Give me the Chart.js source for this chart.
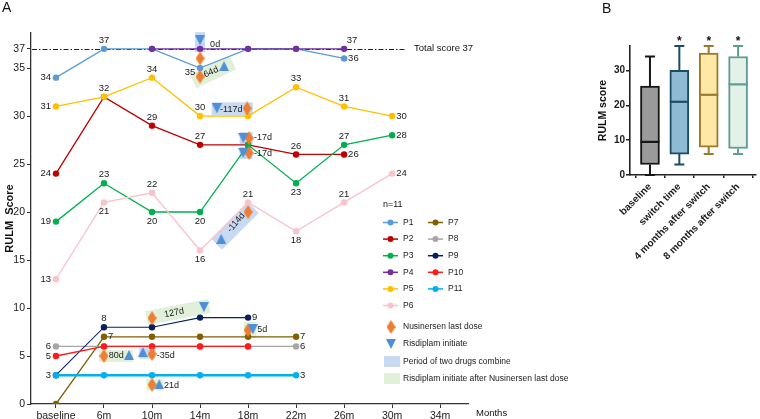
<!DOCTYPE html>
<html><head><meta charset="utf-8">
<script src="https://cdn.jsdelivr.net/npm/chart.js@4/dist/chart.umd.min.js"></script>
<style>
html,body{margin:0;padding:0;background:#fff;width:760px;height:419px;overflow:hidden}
#ca{position:absolute;left:0;top:0}
#cb{position:absolute;left:585px;top:0}
</style></head><body>
<canvas id="ca" width="585" height="419"></canvas>
<canvas id="cb" width="175" height="419"></canvas>
<script>
// ---------------- DATA (panel A) ----------------
const TIMEPOINTS = ['baseline','6m','10m','14m','18m','22m','26m','30m','34m'];
const Y_TICKS_A = [0,5,10,15,20,25,30,35,37];
const TOTAL_SCORE = 37;
const PATIENTS = ['P1','P2','P3','P4','P5','P6','P7','P8','P9','P10','P11'];
const P1  = [34,37,37,35,37,37,36];
const P2  = [24,32,29,27,27,26,26];
const P3  = [19,23,20,20,27,23,27,28];
const P4  = [null,null,37,37,37,37,37];
const P5  = [31,32,34,30,30,33,31,30];
const P6  = [13,21,22,16,21,18,21,24];
const P7  = [0,7,7,7,7,7];
const P8  = [6,6,6,6,6,6];
const P9  = [3,8,8,9,9];
const P10 = [5,6,6,6,6];
const P11 = [3,3,3,3,3,3];
// event markers: [timepoint index (fractional), RULM score]
const NUSI_LAST = [[3,36.0],[3,34.1],[3.98,30.8],[4.02,27.7],[4.02,26.15],[4.0,20.0],[2.0,8.95],[4.0,7.7],[1.0,5.0],[2.0,5.2],[2.0,2.0]];
const RISDI_DOWN = [[3,37.9],[3.35,30.8],[3.9,27.7],[3.9,26.15],[3.08,10.1],[4.1,7.8]];
const RISDI_UP = [[3.5,35.2],[3.44,17.2],[1.52,5.1],[1.81,5.4],[2.15,2.05]];
const DAY_TEXT = ['0d','64d','-117d','-17d','-17d','-114d','127d','5d','80d','-35d','21d'];

// ---------------- DATA (panel B) ----------------
const BOX_CATS = ['baseline','switch time','4 months after switch','8 months after switch'];
const BOX_MIN = [0,3,6,6];
const BOX_Q1  = [3,6,8,7.6];
const BOX_MED = [9.5,21,23,26];
const BOX_Q3  = [25.5,30,35,34];
const BOX_MAX = [34,37,37,37];
const BOX_SIG = ['', '*', '*', '*'];
const Y_TICKS_B = [0,10,20,30];

// ---------------- STYLE ----------------
const FONT = '"Liberation Sans", Arial, Helvetica, sans-serif';
Chart.defaults.font.family = FONT;
Chart.defaults.color = '#1a1a1a';
Chart.defaults.animation = false;

const COLORS = {P1:'#5b9bd5',P2:'#c00000',P3:'#00b050',P4:'#7030a0',P5:'#ffc000',P6:'#f8c3cb',
  P7:'#806000',P8:'#a6a6a6',P9:'#0b1f5e',P10:'#ff1a1a',P11:'#00b0f0'};
const LINE_W = {P11:2.6, P8:1.1, P9:1.1};
const ORANGE = '#ed7d31', TRI_BLUE = '#4f8fd8';
const BOX_FILL = {combine:'rgba(190,210,238,0.85)', after:'rgba(222,238,212,0.9)'};
const LABEL_POS = {
  P1:['l','t',null,'lb',null,null,'r'],
  P2:['l','t','t','t',null,'t','r'],
  P3:['l','t','b','b',null,'b','t','r'],
  P4:[null,null,null,null,null,null,'tr'],
  P5:['l',null,'t','t',null,'t','t','r'],
  P6:['l','b','t','b','t','b','t','r'],
  P7:[null,'r',null,null,null,'r'],
  P8:['l',null,null,null,null,'r'],
  P9:[null,'t',null,null,'r'],
  P10:['l'],
  P11:['l',null,null,null,null,'r']
};
const SHADES = [
  {x:3,y:37.7,w:10,h:20,a:0,k:'combine'},
  {x:3.27,y:34.58,w:44,h:15,a:-25,k:'after'},
  {x:3.67,y:30.75,w:41,h:13,a:0,k:'combine'},
  {x:3.96,y:27.7,w:13,h:12,a:0,k:'combine'},
  {x:3.96,y:26.15,w:13,h:12,a:0,k:'combine'},
  {x:3.73,y:18.54,w:52,h:15,a:-45,k:'combine'},
  {x:2.54,y:9.58,w:64,h:14,a:-11,k:'after'},
  {x:4.04,y:7.71,w:13,h:16,a:0,k:'after'},
  {x:1.25,y:5.0,w:34,h:12,a:0,k:'after'},
  {x:1.9,y:5.3,w:16,h:11,a:0,k:'combine'},
  {x:2.06,y:2.0,w:17,h:11,a:0,k:'after'}
];
const DAY_POS = [
  {x:3.21,y:37.4,a:0,al:'left'},
  {x:3.23,y:34.58,a:-25,al:'center'},
  {x:3.65,y:30.65,a:0,al:'center'},
  {x:4.125,y:27.8,a:0,al:'left'},
  {x:4.125,y:26.05,a:0,al:'left'},
  {x:3.75,y:18.9,a:-50,al:'center'},
  {x:2.46,y:9.5,a:-11,al:'center'},
  {x:4.19,y:7.71,a:0,al:'left'},
  {x:1.1,y:5.0,a:0,al:'left'},
  {x:2.1,y:5.0,a:0,al:'left'},
  {x:2.25,y:1.9,a:0,al:'left'}
];

function makeDiamond(){const c=document.createElement('canvas');c.width=9;c.height=14;const g=c.getContext('2d');
  g.fillStyle=ORANGE;g.beginPath();g.moveTo(4.5,0);g.lineTo(9,7);g.lineTo(4.5,14);g.lineTo(0,7);g.closePath();g.fill();return c;}
function makeTri(up){const c=document.createElement('canvas');c.width=10;c.height=10;const g=c.getContext('2d');
  g.fillStyle=TRI_BLUE;g.beginPath();if(up){g.moveTo(5,0);g.lineTo(10,10);g.lineTo(0,10);}else{g.moveTo(0,0);g.lineTo(10,0);g.lineTo(5,10);}g.closePath();g.fill();return c;}
const DIAMOND = makeDiamond(), TRI_UP = makeTri(true), TRI_DOWN = makeTri(false);

const SERIES = {P1,P2,P3,P4,P5,P6,P7,P8,P9,P10,P11};
const datasetsA = PATIENTS.map((p,i)=>({
  type:'line', label:p,
  data: SERIES[p].map((v,j)=>({x:j,y:v})),
  borderColor:COLORS[p], backgroundColor:COLORS[p],
  borderWidth: LINE_W[p]||1.3, pointRadius:3.2, pointHoverRadius:3.2,
  pointBorderWidth:0, tension:0, order: 30-i
}));
const toPts = arr => arr.map(a=>({x:a[0],y:a[1]}));
datasetsA.push({type:'scatter',label:'Nusinersen last dose',data:toPts(NUSI_LAST),pointStyle:DIAMOND,pointRadius:5,showLine:false,order:1});
datasetsA.push({type:'scatter',label:'Risdiplam initiate',data:toPts(RISDI_DOWN),pointStyle:TRI_DOWN,pointRadius:5,showLine:false,order:0});
datasetsA.push({type:'scatter',label:'Risdiplam initiate (up)',data:toPts(RISDI_UP),pointStyle:TRI_UP,pointRadius:5,showLine:false,order:0});

const panelAPlugin = {
  id:'panelA',
  beforeDatasetsDraw(chart){
    const {ctx, scales:{x,y}, chartArea} = chart;
    ctx.save();
    ctx.strokeStyle='#222';ctx.lineWidth=1;ctx.setLineDash([5,2,1.5,2]);
    const yy = Math.round(y.getPixelForValue(TOTAL_SCORE))+0.5;
    ctx.beginPath();ctx.moveTo(chartArea.left+1,yy);ctx.lineTo(405,yy);ctx.stroke();
    ctx.restore();
    SHADES.forEach(s=>{
      ctx.save();
      ctx.translate(x.getPixelForValue(s.x), y.getPixelForValue(s.y));
      ctx.rotate(s.a*Math.PI/180);
      ctx.fillStyle=BOX_FILL[s.k];
      ctx.fillRect(-s.w/2,-s.h/2,s.w,s.h);
      ctx.restore();
    });
  },
  afterDatasetsDraw(chart){
    const {ctx, scales:{x,y}} = chart;
    ctx.save();
    ctx.font='9.5px '+FONT;ctx.fillStyle='#1a1a1a';
    PATIENTS.forEach((p,i)=>{
      const meta = chart.getDatasetMeta(i);
      const pos = LABEL_POS[p]||[];
      SERIES[p].forEach((v,j)=>{
        const where = pos[j]; if(!where || v===null) return;
        const pt = meta.data[j]; let tx=pt.x, ty=pt.y, al='center';
        if(where==='t'){ty-=8.5;} else if(where==='b'){ty+=9;}
        else if(where==='l'){tx-=5;al='right';} else if(where==='r'){tx+=4;al='left';}
        else if(where==='lb'){tx-=10;ty+=4;} else if(where==='tr'){tx+=8;ty-=8;}
        ctx.textAlign=al;ctx.textBaseline='middle';
        ctx.fillText(String(v),tx,ty);
      });
    });
    ctx.font='9px '+FONT;
    DAY_TEXT.forEach((t,i)=>{
      const d = DAY_POS[i];
      ctx.save();
      ctx.translate(x.getPixelForValue(d.x), y.getPixelForValue(d.y));
      ctx.rotate(d.a*Math.PI/180);
      ctx.textAlign=d.al;ctx.textBaseline='middle';
      ctx.fillText(t,0,0);
      ctx.restore();
    });
    ctx.restore();
  },
  afterDraw(chart){
    const {ctx, scales:{y}} = chart;
    ctx.save();
    ctx.fillStyle='#111';
    ctx.font='14px '+FONT;ctx.textAlign='left';ctx.textBaseline='middle';
    ctx.fillText('A',2,8);
    ctx.font='9.5px '+FONT;
    ctx.fillText('Total score '+TOTAL_SCORE,414,y.getPixelForValue(TOTAL_SCORE));
    ctx.fillText('Months',476,413);
    ctx.font='9px '+FONT;ctx.fillText('n=11',383,205);
    ctx.font='8.5px '+FONT;
    PATIENTS.forEach((p,i)=>{
      const col = i<6?0:1, row = i<6?i:i-6;
      const lx = col===0?383:428, ly = 222.5+row*16.6;
      ctx.strokeStyle=COLORS[p];ctx.lineWidth=1.5;
      ctx.beginPath();ctx.moveTo(lx,ly);ctx.lineTo(lx+15,ly);ctx.stroke();
      ctx.fillStyle=COLORS[p];ctx.beginPath();ctx.arc(lx+7.5,ly,3,0,Math.PI*2);ctx.fill();
      ctx.fillStyle='#1a1a1a';ctx.fillText(p,lx+20,ly);
    });
    ctx.drawImage(DIAMOND,391-4.5,327-7);
    ctx.fillText('Nusinersen last dose',403,327);
    ctx.drawImage(TRI_DOWN,391-5,344-5);
    ctx.fillText('Risdiplam initiate',403,344);
    ctx.fillStyle=BOX_FILL.combine;ctx.fillRect(384,356,16,11);
    ctx.fillStyle='#1a1a1a';ctx.fillText('Period of two drugs combine',403,361.5);
    ctx.fillStyle=BOX_FILL.after;ctx.fillRect(384,373,16,11);
    ctx.fillStyle='#1a1a1a';ctx.fillText('Risdiplam initiate after Nusinersen last dose',403,378.5);
    ctx.restore();
  }
};

new Chart(document.getElementById('ca'),{
  type:'line',
  data:{datasets:datasetsA},
  options:{
    responsive:false, events:[],
    layout:{padding:{left:0,top:33,right:117,bottom:0}},
    plugins:{legend:{display:false},tooltip:{enabled:false}},
    scales:{
      x:{type:'linear',min:-0.52,max:8.58,
        afterBuildTicks:s=>{s.ticks=TIMEPOINTS.map((_,i)=>({value:i}));},
        afterFit:s=>{s.height=15;},
        ticks:{callback:v=>TIMEPOINTS[v],autoSkip:false,maxRotation:0,padding:2,font:{size:10.5},color:'#1a1a1a'},
        grid:{drawOnChartArea:false,tickLength:4,color:'#333',lineWidth:1},
        border:{color:'#333',width:1.3}},
      y:{type:'linear',min:0,max:38.65,
        afterBuildTicks:s=>{s.ticks=Y_TICKS_A.map(v=>({value:v}));},
        afterFit:s=>{s.width=31;},
        ticks:{autoSkip:false,padding:2,font:{size:10.5},color:'#1a1a1a'},
        grid:{drawOnChartArea:false,tickLength:4,color:'#333',lineWidth:1},
        border:{color:'#333',width:1.3},
        title:{display:true,text:'RULM  Score',font:{size:11,weight:'bold'},color:'#111',padding:{top:3,bottom:0}}}
    }
  },
  plugins:[panelAPlugin]
});

// ---------------- Panel B ----------------
const BOX_FILLS = ['#9a9a9a','#8fbad4','#ffe8a6','#e4f1e6'];
const BOX_STROKES = ['#161616','#1b4c66','#9b7a2c','#5f9c95'];
const panelBPlugin = {
  id:'panelB',
  beforeDatasetsDraw(chart){
    const {ctx, scales:{x,y}} = chart;
    ctx.save();ctx.lineWidth=2;
    BOX_CATS.forEach((c,i)=>{
      const cx = x.getPixelForValue(i);
      ctx.strokeStyle=BOX_STROKES[i];
      ctx.beginPath();
      ctx.moveTo(cx,y.getPixelForValue(BOX_MIN[i]));ctx.lineTo(cx,y.getPixelForValue(BOX_Q1[i]));
      ctx.moveTo(cx,y.getPixelForValue(BOX_Q3[i]));ctx.lineTo(cx,y.getPixelForValue(BOX_MAX[i]));
      ctx.moveTo(cx-5,y.getPixelForValue(BOX_MIN[i]));ctx.lineTo(cx+5,y.getPixelForValue(BOX_MIN[i]));
      ctx.moveTo(cx-5,y.getPixelForValue(BOX_MAX[i]));ctx.lineTo(cx+5,y.getPixelForValue(BOX_MAX[i]));
      ctx.stroke();
    });
    ctx.restore();
  },
  afterDatasetsDraw(chart){
    const {ctx, scales:{x,y}} = chart;
    ctx.save();ctx.lineWidth=2.2;
    BOX_CATS.forEach((c,i)=>{
      const cx = x.getPixelForValue(i);
      ctx.strokeStyle=BOX_STROKES[i];
      const my = y.getPixelForValue(BOX_MED[i]);
      ctx.beginPath();ctx.moveTo(cx-9.5,my);ctx.lineTo(cx+9.5,my);ctx.stroke();
      if(BOX_SIG[i]){
        ctx.fillStyle='#111';ctx.font='bold 12px '+FONT;ctx.textAlign='center';ctx.textBaseline='middle';
        ctx.fillText(BOX_SIG[i],cx,y.getPixelForValue(BOX_MAX[i])-4);
      }
    });
    ctx.restore();
  },
  afterDraw(chart){
    const {ctx} = chart;
    ctx.save();ctx.fillStyle='#111';ctx.font='14px '+FONT;ctx.textAlign='left';ctx.textBaseline='middle';
    ctx.fillText('B',17,9);ctx.restore();
  }
};
new Chart(document.getElementById('cb'),{
  type:'bar',
  data:{datasets:[{
    label:'RULM score',
    data:BOX_CATS.map((c,i)=>({x:i,y:[BOX_Q1[i],BOX_Q3[i]]})),
    backgroundColor:BOX_FILLS, borderColor:BOX_STROKES, borderWidth:2, borderSkipped:false,
    barThickness:19
  }]},
  options:{
    responsive:false, events:[],
    layout:{padding:{left:0,top:46,right:4,bottom:0}},
    plugins:{legend:{display:false},tooltip:{enabled:false}},
    scales:{
      x:{type:'linear',min:-0.68,max:3.61,offset:false,
        afterBuildTicks:s=>{s.ticks=BOX_CATS.map((_,i)=>({value:i}));},
        afterFit:s=>{s.height=419-175;},
        ticks:{callback:v=>BOX_CATS[v],autoSkip:false,minRotation:45,maxRotation:45,padding:3,font:{size:10,weight:'bold'},color:'#1a1a1a'},
        grid:{drawOnChartArea:false,tickLength:3,color:'#222',lineWidth:1.5},
        border:{color:'#222',width:1.6}},
      y:{type:'linear',min:0,max:37,
        afterBuildTicks:s=>{s.ticks=Y_TICKS_B.map(v=>({value:v}));},
        afterFit:s=>{s.width=45;},
        ticks:{padding:1,font:{size:10,weight:'bold'},color:'#1a1a1a'},
        grid:{drawOnChartArea:false,tickLength:4,color:'#222',lineWidth:1.5},
        border:{color:'#222',width:1.6},
        title:{display:true,text:'RULM score',font:{size:10.5,weight:'bold'},color:'#111',padding:{top:12,bottom:0}}}
    }
  },
  plugins:[panelBPlugin]
});
</script>
</body></html>
